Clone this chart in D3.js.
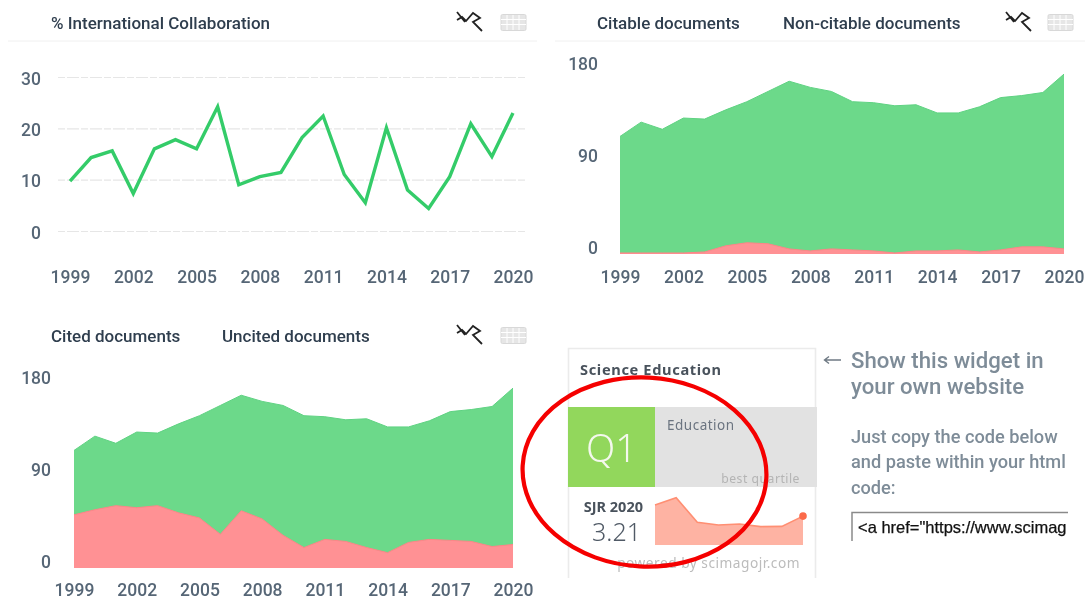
<!DOCTYPE html>
<html><head><meta charset="utf-8">
<script src="https://cdn.jsdelivr.net/npm/d3@7/dist/d3.min.js"></script>
<style>
html,body{margin:0;padding:0;background:#fff;overflow:hidden}
svg{display:block;filter:blur(0.55px)}
text{font-family:Roboto,sans-serif}
</style></head><body>
<svg id="c" width="1085" height="599"></svg>
<script>
const years = [1999,2000,2001,2002,2003,2004,2005,2006,2007,2008,2009,2010,2011,2012,2013,2014,2015,2016,2017,2018,2019,2020];
const tickYears = [1999,2002,2005,2008,2011,2014,2017,2020];
const collaboration = [9.7,14.3,15.6,7.3,16,17.8,16,24.2,9,10.6,11.4,18.2,22.4,11,5.5,20.1,8,4.4,10.6,20.9,14.5,23];
const citable = [115,129,122,133,132,141,149,159,169,163,159,149,148,145,146,138,138,144,153,155,158,176];
const nonCitable = [1,1,1,1,2,8,11,10,5,3,5,4,3,1,3,3,4,2,4,7,7,5];
const cited = [52,57,61,59,61,54,49,33,56,48,32,20,28,26,20,15,25,28,27,26,21,23];
const total = [115,129,122,133,132,141,149,159,169,163,159,149,148,145,146,138,138,144,153,155,158,176];
const sjrYears = [2013,2014,2015,2016,2017,2018,2019,2020];
const sjr = [4.44,5.26,2.52,2.22,2.33,2.04,2.07,3.21];
const lineTicks = [0,10,20,30];
const areaTicks = [0,90,180];

const svg = d3.select("#c");
const GREEN="#34cc69", AREA="#6cd98a", AREAEDGE="#5fd282", RED="#ff9194", REDEDGE="#ff8488";
const TITLE="#2f3e4e", TICK="#566676";

function xAxis(g,x,y){
  const a=g.append("g").attr("transform",`translate(0,${y})`)
    .call(d3.axisBottom(x).tickValues(tickYears).tickFormat(d3.format("d")).tickSize(0));
  a.select(".domain").remove();
  a.selectAll("text").attr("dy",0).attr("y",0).attr("dominant-baseline","central")
    .style("font-family","Roboto").style("font-size","17.5px").style("font-weight",500).attr("fill",TICK);
}
function icons(ix,tx,y){
  const g=svg.append("g");
  g.append("path").attr("d",`M${ix} ${y}L${ix+8} ${y+10}M${ix} ${y+8}L${ix+5} ${y+5}L${ix+9} ${y+9}L${ix+16} ${y+1}L${ix+23} ${y+6}L${ix+16} ${y+10}L${ix+25} ${y+19}`)
   .attr("fill","none").attr("stroke","#222").attr("stroke-width",1.8);
  g.append("rect").attr("x",tx).attr("y",y+2.5).attr("width",25).attr("height",16).attr("fill","#e6e6e6").attr("stroke","#d8d8d8").attr("rx",1.5);
  [5,10].forEach(d=>g.append("line").attr("x1",tx).attr("x2",tx+25).attr("y1",y+2.5+d).attr("y2",y+2.5+d).attr("stroke","#fff"));
  [6,12,18].forEach(d=>g.append("line").attr("x1",tx+d).attr("x2",tx+d).attr("y1",y+3).attr("y2",y+18).attr("stroke","#fff"));
}
function label(t,x,y,o={}){
  return svg.append("text").attr("x",x).attr("y",y).attr("dominant-baseline","central")
   .attr("fill",o.fill||TITLE).style("font-size",(o.size||17)+"px").style("font-weight",o.weight||500)
   .style("font-family",o.font||"Roboto").style("letter-spacing",o.ls||"0").attr("text-anchor",o.anchor||"start").text(t);
}

// Panel 1: line
{
  const x=d3.scaleLinear().domain([1999,2020]).range([70,513]);
  const y=d3.scaleLinear().domain([0,30]).range([231,77]);
  const g=svg.append("g");
  g.append("g").attr("transform","translate(58,0)")
   .call(d3.axisLeft(y).tickValues(lineTicks).tickSize(-467).tickPadding(17))
   .call(a=>a.select(".domain").remove())
   .call(a=>a.selectAll("line").attr("stroke","#e6e6e6").attr("stroke-width",1.2).attr("stroke-dasharray","7 2 12 2"))
   .call(a=>a.selectAll("text").attr("dy",0).attr("y",1).attr("dominant-baseline","central")
      .style("font-family","Roboto").style("font-size","17.5px").style("font-weight",500).attr("fill",TICK));
  g.append("path").attr("d",d3.line().x((d,i)=>x(years[i])).y(d=>y(d))(collaboration))
   .attr("fill","none").attr("stroke",GREEN).attr("stroke-width",3.4);
  xAxis(g,x,277);
}
// Area panels
function areaPanel(x0,x1,base,top,vals,lower,tickShift,axisX,labelY){
  const x=d3.scaleLinear().domain([1999,2020]).range([x0,x1]);
  const y=d3.scaleLinear().domain([0,180]).range([base,top]);
  const g=svg.append("g");
  const ar=d3.area().x((d,i)=>x(years[i])).y0(base).y1(d=>y(d));
  const ln=d3.line().x((d,i)=>x(years[i])).y(d=>y(d));
  g.append("path").attr("d",ar(vals)).attr("fill",AREA);
  g.append("path").attr("d",ln(vals)).attr("fill","none").attr("stroke",AREAEDGE).attr("stroke-width",1);
  g.append("path").attr("d",ar(lower)).attr("fill",RED);
  g.append("path").attr("d",ln(lower)).attr("fill","none").attr("stroke",REDEDGE).attr("stroke-width",1);
  g.append("g").attr("transform",`translate(${axisX},0)`)
   .call(d3.axisLeft(y).tickValues(areaTicks).tickSize(0).tickPadding(0))
   .call(a=>a.select(".domain").remove())
   .call(a=>a.selectAll("text").attr("dy",0).attr("y",tickShift).attr("dominant-baseline","central")
      .style("font-family","Roboto").style("font-size","17.5px").style("font-weight",500).attr("fill",TICK));
  xAxis(g,x,labelY);
}
areaPanel(620,1064,254,70,citable,nonCitable,-7,598,277);
areaPanel(74,513,568,384,total,cited,-7,51,590);

// Panel headers
svg.append("line").attr("x1",8).attr("x2",537).attr("y1",41).attr("y2",41).attr("stroke","#f0f0f0");
svg.append("line").attr("x1",555).attr("x2",1085).attr("y1",41).attr("y2",41).attr("stroke","#f0f0f0");
label("% International Collaboration",51,23);
label("Citable documents",597,23);
label("Non-citable documents",783,23);
label("Cited documents",51,336);
label("Uncited documents",222,336);
icons(457,501,12); icons(1006,1048,12); icons(457,501,325);

// Widget
const W="Noto Sans";
svg.append("path").attr("d","M568.5 578V348.5H815.5V578").attr("fill","none").attr("stroke","#ebebeb").attr("stroke-width",1.6);
svg.append("rect").attr("x",568).attr("y",407).attr("width",87).attr("height",80).attr("fill","#92d75c");
svg.append("rect").attr("x",655).attr("y",407).attr("width",162).attr("height",80).attr("fill","#e2e2e2");
label("Science Education",580,369,{font:W,size:14.6,weight:700,fill:"#49525c",ls:"0.65px"});
label("Q1",586,447,{font:W,size:38,weight:300,fill:"#f4f8ee"});
label("Education",667,425,{font:W,size:13.5,weight:400,fill:"#6b7480",ls:"0.5px"});
label("best quartile",800,478,{font:W,size:12.2,weight:400,fill:"#b4b4b4",anchor:"end",ls:"0.5px"});
label("SJR 2020",643,506,{font:W,size:14.5,weight:700,fill:"#49525c",anchor:"end"});
label("3.21",641,531,{font:W,size:25,weight:300,fill:"#505a66",anchor:"end"});
label("powered by scimagojr.com",800,562,{font:W,size:13.7,weight:400,fill:"#bcbcbc",anchor:"end",ls:"0.5px"});
{
  const x=d3.scaleLinear().domain([2013,2020]).range([655,803]);
  const y=d3.scaleLinear().domain([0,6]).range([545,491]);
  svg.append("path").attr("d",d3.area().x((d,i)=>x(sjrYears[i])).y0(545).y1(d=>y(d))(sjr)).attr("fill","#feb3a3");
  svg.append("path").attr("d",d3.line().x((d,i)=>x(sjrYears[i])).y(d=>y(d))(sjr)).attr("fill","none").attr("stroke","#ff8f73").attr("stroke-width",1.6);
  svg.append("circle").attr("cx",x(2020)).attr("cy",y(sjr[7])).attr("r",3.8).attr("fill","#fb6a4a");
}
// Red ellipse annotation
svg.append("ellipse").attr("cx",644.5).attr("cy",472).attr("rx",122).attr("ry",94.5).attr("fill","none").attr("stroke","#f50000").attr("stroke-width",4.2)
  .attr("transform","rotate(3 644.5 472)");

// Side text
const S="#7e8c98";
svg.append("path").attr("d","M841 360H825M829 356.5L824.5 360L829 363.5").attr("fill","none").attr("stroke","#6f7a84").attr("stroke-width",1.4);
label("Show this widget in",851,360,{size:22.2,weight:500,fill:S});
label("your own website",851,386,{size:22.2,weight:500,fill:S});
label("Just copy the code below",851,436,{size:18.2,weight:500,fill:S});
label("and paste within your html",851,461,{size:18.2,weight:500,fill:S});
label("code:",851,487,{size:18.2,weight:500,fill:S});
svg.append("path").attr("d","M852 541V512.5H1068").attr("fill","none").attr("stroke","#8a8a8a").attr("stroke-width",1.5);
svg.append("text").attr("x",858).attr("y",527).attr("dominant-baseline","central")
  .style("font-family","Liberation Sans").style("font-size","16.5px").attr("fill","#111").attr("stroke","#111").attr("stroke-width",0.25).text('<a href="https://www.scimag');
</script></body></html>
